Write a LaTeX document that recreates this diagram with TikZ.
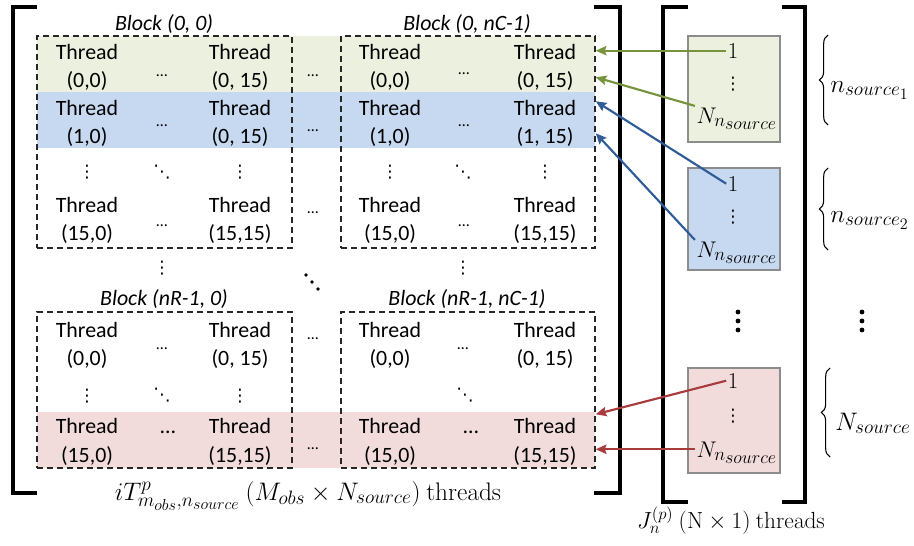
\RequirePackage{fix-cm}
\documentclass[tikz,border=0pt]{standalone}
\usepackage[no-math]{fontspec}
\setmainfont{Carlito}
\newfontfamily\dotsfont{DejaVu Sans}
\usetikzlibrary{arrows.meta,decorations.pathreplacing,calc,fit}
\DeclareMathSizes{17}{17}{14}{13.5}
\DeclareMathSizes{17.5}{17.5}{12.5}{11}
\DeclareMathSizes{19}{19}{14.5}{12}

\definecolor{bandgreen}{HTML}{EBF1DE}
\definecolor{bandblue}{HTML}{C6D9F1}
\definecolor{bandred}{HTML}{F2DCDB}
\definecolor{arrgreen}{HTML}{77933C}
\definecolor{arrblue}{HTML}{2F5C98}
\definecolor{arrred}{HTML}{A83B3B}
\definecolor{boxedge}{HTML}{8C8C8C}

\tikzset{
  thr/.style={font=\fontsize{16.4}{20}\selectfont, inner sep=0pt, anchor=base},
  blk/.style={draw=black!85, dash pattern=on 4.5pt off 3pt, line width=1.1pt, inner sep=0pt},
  blklabel/.style={font=\fontsize{16.4}{20}\selectfont\itshape, anchor=base, inner sep=0pt},
  bracket/.style={line width=2.3pt},
  link/.style={line width=1.6pt, -{Stealth[length=8pt,width=7pt,inset=1.2pt]}},
  srcbox/.style={draw=boxedge, line width=0.8pt, inner sep=0pt},
  sdots/.style={font=\fontsize{12}{14}\selectfont, inner sep=0pt, anchor=base},
  ldots/.style={font=\fontsize{16.4}{20}\selectfont, inner sep=0pt, anchor=base},
  vd/.style={font=\dotsfont\fontsize{13}{15}\selectfont, inner sep=0pt, anchor=base},
  boxmath/.style={font=\fontsize{17}{20}\selectfont, inner sep=1pt, anchor=base},
  lblmath/.style={font=\fontsize{19}{22}\selectfont, inner sep=0pt, anchor=base},
  jmath/.style={font=\fontsize{17.5}{20}\selectfont, inner sep=0pt, anchor=base},
  bracemath/.style={font=\fontsize{19}{22}\selectfont, inner sep=0pt, anchor=base west},
  brc/.style={decorate, decoration={brace, amplitude=6.5pt}, line width=0.8pt},
}

% one thread cell: name, x, baseline of "Thread", baseline of index, index
\newcommand\threadcell[5]{%
  \node[thr] (#1) at (#2,#3) {Thread};
  \node[thr] (#1i) at (#2,#4) {#5};}

\begin{document}
\begin{tikzpicture}[x=0.75pt,y=-0.75pt]
\useasboundingbox (0,0) rectangle (914,546);
\fill[white] (0,0) rectangle (914,546);

% coloured rows of threads
\fill[bandgreen] (37,36) rectangle (595,92);
\fill[bandblue]  (37,92) rectangle (595,148);
\fill[bandred]   (37,412) rectangle (595,468);

% thread blocks
\node[blk, fit={(37,36) (292,248)}]   (blkA) {};
\node[blk, fit={(341,36) (595,248)}]  (blkB) {};
\node[blk, fit={(37,312) (292,468)}]  (blkC) {};
\node[blk, fit={(341,312) (595,468)}] (blkD) {};

\node[blklabel] (labA) at (164,30)  {Block (0, 0)};
\node[blklabel] (labB) at (467,30)  {Block (0, nC-1)};
\node[blklabel] (labC) at (164,305) {Block (nR-1, 0)};
\node[blklabel] (labD) at (467,305) {Block (nR-1, nC-1)};

% block (0,0)
\threadcell{a00}{87}{59}{87.5}{(0,0)}
\threadcell{a0f}{240}{59}{87.5}{(0, 15)}
\threadcell{a10}{87}{115}{143}{(1,0)}
\threadcell{a1f}{240}{115}{143}{(0, 15)}
\threadcell{af0}{87}{212}{240}{(15,0)}
\threadcell{aff}{240}{212}{240}{(15,15)}
\node[sdots] (aD0) at (162,76)  {…};
\node[sdots] (aD1) at (162,126) {…};
\node[sdots] (aDf) at (162,226) {…};
\node[vd] (aV1) at (87,177)  {⋮};
\node[vd] (aV2) at (240,177) {⋮};
\node[vd] (aDD) at (162,177) {⋱};

% block (0,nC-1)
\threadcell{b00}{390}{59}{87.5}{(0,0)}
\threadcell{b0f}{545}{59}{87.5}{(0, 15)}
\threadcell{b10}{390}{115}{143}{(1,0)}
\threadcell{b1f}{545}{115}{143}{(1, 15)}
\threadcell{bf0}{390}{212}{240}{(15,0)}
\threadcell{bff}{545}{212}{240}{(15,15)}
\node[sdots] (bD0) at (464,74)  {…};
\node[sdots] (bD1) at (464,126) {…};
\node[sdots] (bDf) at (464,226) {…};
\node[vd] (bV1) at (390,177) {⋮};
\node[vd] (bV2) at (545,177) {⋮};
\node[vd] (bDD) at (463,177) {⋱};

% block (nR-1,0)
\threadcell{c00}{87}{337}{365}{(0,0)}
\threadcell{c0f}{240}{337}{365}{(0, 15)}
\threadcell{cf0}{87}{433}{462}{(15,0)}
\threadcell{cff}{240}{433}{462}{(15,15)}
\node[sdots] (cD0) at (162,349) {…};
\node[ldots] (cDf) at (168,433) {…};
\node[vd] (cV1) at (87,401)  {⋮};
\node[vd] (cV2) at (240,401) {⋮};
\node[vd] (cDD) at (162,400) {⋱};

% block (nR-1,nC-1)
\threadcell{d00}{390}{337}{365}{(0,0)}
\threadcell{d0f}{545}{337}{365}{(0, 15)}
\threadcell{df0}{390}{433}{462}{(15,0)}
\threadcell{dff}{545}{433}{462}{(15,15)}
\node[sdots] (dD0) at (463,349) {…};
\node[ldots] (dDf) at (471,433) {…};
\node[vd] (dDD) at (465,400) {⋱};

% dots between the blocks
\node[sdots] (gap0) at (313,76)  {…};
\node[sdots] (gap1) at (313,131) {…};
\node[sdots] (gap2) at (313,213) {…};
\node[sdots] (gap3) at (313,339) {…};
\node[sdots] (gap4) at (313,449) {…};
\node[vd] (colA) at (162,273) {⋮};
\node[vd] (colB) at (463,273) {⋮};
\fill (306,275) circle (1.8) (312,282) circle (1.8) (318,289) circle (1.8);

% matrix brackets
\draw[bracket] (37,7) -- (13,7) -- (13,493) -- (37,493);
\draw[bracket] (594,7) -- (620,7) -- (620,493) -- (594,493);
\draw[bracket] (688,7) -- (663,7) -- (663,502) -- (688,502);
\draw[bracket] (782,7) -- (805,7) -- (805,502) -- (782,502);

% source vectors
\node[srcbox, fill=bandgreen, fit={(688,36) (780,142)}]  (srcG) {};
\node[srcbox, fill=bandblue,  fit={(688,168) (780,270)}] (srcB) {};
\node[srcbox, fill=bandred,   fit={(688,368) (780,473)}] (srcR) {};

\node[boxmath] (g1) at (733,58)  {$1$};
\node[vd]      (gV) at (733,89)  {⋮};
\node[boxmath] (gN) at (737,123) {$N_{n_{source}}$};
\node[boxmath] (b1) at (733,191) {$1$};
\node[vd]      (bV) at (733,222) {⋮};
\node[boxmath] (bN) at (737,257) {$N_{n_{source}}$};
\node[boxmath] (r1) at (733,388) {$1$};
\node[vd]      (rV) at (733,421) {⋮};
\node[boxmath] (rN) at (737,457) {$N_{n_{source}}$};

\foreach \yy in {312,321,330} {
  \fill (738,\yy) circle (2.4);
  \fill (862,\yy) circle (2.4);
}

% braces with group sizes
\draw[brc] (828,125) -- (828,35);
\draw[brc] (828,250) -- (828,168);
\draw[brc] (830,457) -- (830,368);
\node[bracemath] (n1) at (830,92)  {$n_{source_1}$};
\node[bracemath] (n2) at (830,222) {$n_{source_2}$};
\node[bracemath] (nN) at (835,430) {$N_{source}$};

% arrow targets on the right edge of the blocks
\coordinate (tGN) at ($(blkB.north east)+(0,42)$);
\coordinate (tB1) at ($(blkB.north east)+(0,66)$);
\coordinate (tBN) at ($(blkB.north east)+(0,98)$);
\coordinate (tR1) at ($(blkD.north east)+(0,103)$);
\coordinate (tRN) at ($(blkD.north east)+(0,138)$);

\draw[link, arrgreen] (g1.west) -- (blkB.east |- g1.west);
\draw[link, arrgreen] (gN.north west) -- (tGN);
\draw[link, arrblue]  (b1.west) -- (tB1);
\draw[link, arrblue]  (bN.north west) -- (tBN);
\draw[link, arrred]   (r1.west) -- (tR1);
\draw[link, arrred]   (rN.west |- tRN) -- (tRN);

% captions
\node[lblmath] (capL) at (308,500) {$iT^{p}_{m_{obs},n_{source}}\ (M_{obs}\times N_{source})\ \mathrm{threads}$};
\node[jmath] (capR) at (731,528) {$J_n^{(p)}\ (\mathrm{N}\times 1)\ \mathrm{threads}$};
\end{tikzpicture}
\end{document}
